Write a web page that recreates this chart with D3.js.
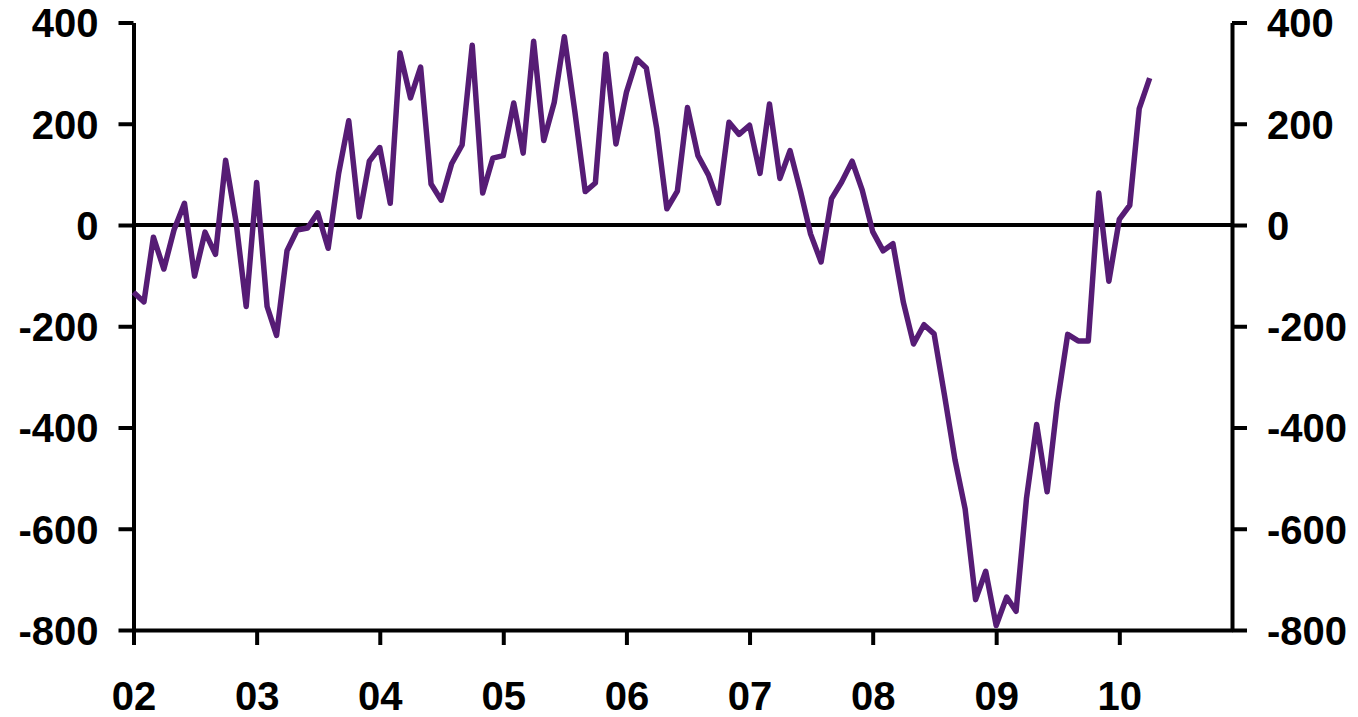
<!DOCTYPE html>
<html>
<head>
<meta charset="utf-8">
<script src="https://cdn.jsdelivr.net/npm/d3@7"></script>
<style>
  body { margin: 0; background: #fff; }
  svg text { font-family: "Liberation Sans", Arial, sans-serif; font-weight: bold; font-size: 40px; fill: #000; }
</style>
</head>
<body>
<div id="chart"></div>
<script>
// Monthly values, Jan 2002 onwards
const startDate = new Date(2002, 0, 1);
const values = [
  -133, -152, -24, -87, -10, 43, -101, -14, -58, 128, 6, -161,
  84, -161, -218, -51, -10, -6, 24, -46, 102, 206, 16, 126,
  153, 43, 340, 251, 312, 81, 49, 121, 158, 355, 63, 132,
  137, 241, 142, 363, 167, 242, 372, 225, 66, 83, 338, 160,
  262, 328, 310, 190, 32, 67, 232, 137, 99, 43, 203, 179,
  197, 102, 239, 92, 147, 67, -18, -73, 52, 85, 126, 69,
  -13, -51, -37, -153, -235, -197, -215, -337, -464, -561, -740, -684,
  -791, -735, -763, -539, -394, -527, -353, -216, -229, -229, 63, -111,
  11, 39, 230, 290
];
const yTicks = [400, 200, 0, -200, -400, -600, -800];
const yearTicks = [2002, 2003, 2004, 2005, 2006, 2007, 2008, 2009, 2010];

const data = values.map((v, i) => ({ date: d3.timeMonth.offset(startDate, i), value: v }));

const chartWidth = 1358;
const chartHeight = 717;
const margin = { top: 22.5, right: 126, bottom: 87, left: 133.5 };
const width = chartWidth - margin.left - margin.right;
const height = chartHeight - margin.top - margin.bottom;

const svg = d3.select("#chart")
  .append("svg")
  .attr("width", chartWidth)
  .attr("height", chartHeight)
  .append("g")
  .attr("transform", `translate(${margin.left}, ${margin.top})`);

const xScale = d3.scaleTime()
  .domain([startDate, new Date(2010, 11, 1)])
  .range([0, width]);

const yScale = d3.scaleLinear()
  .domain([-800, 400])
  .range([height, 0]);

// zero line
svg.append("line")
  .attr("x1", 0)
  .attr("x2", width)
  .attr("y1", yScale(0))
  .attr("y2", yScale(0))
  .attr("stroke", "#000")
  .attr("stroke-width", 4);

// plain hyphen for negatives, like the original
const numFormat = d => String(d);

const yAxisLeft = d3.axisLeft(yScale)
  .tickValues(yTicks)
  .tickFormat(numFormat)
  .tickSize(15)
  .tickSizeOuter(0)
  .tickPadding(20);

const yAxisRight = d3.axisRight(yScale)
  .tickValues(yTicks)
  .tickFormat(numFormat)
  .tickSize(15)
  .tickSizeOuter(0)
  .tickPadding(20);

const xAxis = d3.axisBottom(xScale)
  .tickValues(yearTicks.map(y => new Date(y, 0, 1)))
  .tickFormat(d3.timeFormat("%y"))
  .tickSize(15)
  .tickSizeOuter(0)
  .tickPadding(37);

function styleAxis(g) {
  g.attr("font-size", null).attr("font-family", null);
  g.selectAll("path.domain").attr("stroke", "#000").attr("stroke-width", 4);
  g.selectAll(".tick line").attr("stroke", "#000").attr("stroke-width", 4);
}

svg.append("g")
  .attr("class", "y-axis-left")
  .call(yAxisLeft)
  .call(styleAxis)
  .selectAll(".tick text").attr("dy", "0.36em");

svg.append("g")
  .attr("class", "y-axis-right")
  .attr("transform", `translate(${width}, 0)`)
  .call(yAxisRight)
  .call(styleAxis)
  .selectAll(".tick text").attr("dy", "0.36em");

svg.append("g")
  .attr("class", "x-axis")
  .attr("transform", `translate(0, ${height})`)
  .call(xAxis)
  .call(styleAxis);

const line = d3.line()
  .x(d => xScale(d.date))
  .y(d => yScale(d.value));

svg.append("path")
  .datum(data)
  .attr("fill", "none")
  .attr("stroke", "#561c75")
  .attr("stroke-width", 5.5)
  .attr("stroke-linejoin", "round")
  .attr("d", line);
</script>
</body>
</html>
